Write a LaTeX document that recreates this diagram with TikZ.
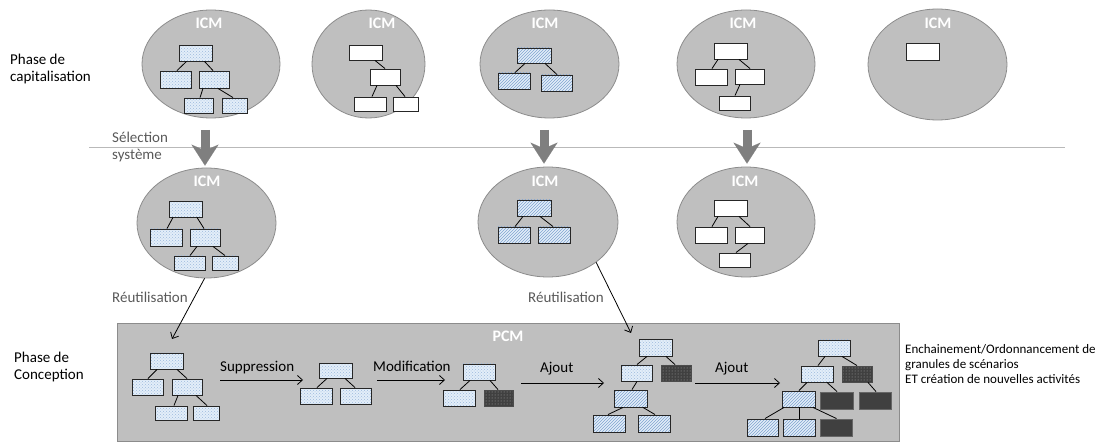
\documentclass[tikz,border=0pt]{standalone}
\usepackage{fontspec}
\setmainfont{Carlito}
\usetikzlibrary{arrows.meta,shapes.geometric,patterns}
\definecolor{ellfill}{HTML}{BFBFBF}
\definecolor{elldraw}{HTML}{8C8C8C}
\definecolor{lblue}{HTML}{E3EEF9}
\definecolor{pblue}{HTML}{9DB9DC}
\definecolor{hblue}{HTML}{7FA3CF}
\definecolor{dark}{HTML}{404040}
\definecolor{txtgray}{HTML}{595959}
\definecolor{arrgray}{HTML}{7F7F7F}
\newcommand\B[6]{\node[#6, minimum width={#4-#2}, minimum height={#5-#3}] (#1) at ({(#2+#4)/2},{(#3+#5)/2}) {};}
\newcommand\Lk[4]{\draw[lk] ([xshift=#2pt]#1.south) -- ([xshift=#4pt]#3.north);}
\tikzset{
  ell/.style={ellipse, draw=elldraw, fill=ellfill, line width=0.8pt, inner sep=0pt},
  boxbase/.style={rectangle, inner sep=0pt, line width=0.9pt},
  lb/.style={boxbase, draw=black!85, preaction={fill=lblue}, pattern=crosshatch dots, pattern color=pblue},
  lh/.style={boxbase, draw=black!85, preaction={fill=lblue}, pattern=north east lines, pattern color=hblue},
  wb/.style={boxbase, draw=black!85, fill=white},
  dd/.style={boxbase, draw=black!70, preaction={fill=dark}, pattern=dots, pattern color=gray!70},
  dk/.style={boxbase, draw=black!60, fill=dark},
  lk/.style={draw=black, line width=0.8pt},
  icm/.style={text=white, font=\fontsize{16}{19}\selectfont\bfseries, inner sep=0pt, anchor=base},
  lab/.style={font=\fontsize{15}{17.5}\selectfont, inner sep=0pt, anchor=base west, align=left},
  glab/.style={lab, text=txtgray},
  big/.style={draw=arrgray, line width=9pt, -{Stealth[length=21pt,width=27pt,inset=6pt,line width=0.1pt]}},
  ar/.style={draw=black, line width=0.8pt, -{Straight Barb[length=5pt,width=9pt]}},
}
\begin{document}
\begin{tikzpicture}[x=1pt,y=-1pt]
\useasboundingbox (0,0) rectangle (1108,443);
% top row ellipses
\node[ell, minimum width=138, minimum height=108] (t1) at (211,64) {};
\node[ell, minimum width=113, minimum height=108] (t2) at (368.5,64) {};
\node[ell, minimum width=139, minimum height=108] (t3) at (549.5,64) {};
\node[ell, minimum width=138, minimum height=108] (t4) at (746,64) {};
\node[ell, minimum width=139, minimum height=111] (t5) at (937.5,64.5) {};
\node[icm] (i1) at (209,29) {ICM};
\node[icm] (i2) at (382,29) {ICM};
\node[icm] (i3) at (545,29) {ICM};
\node[icm] (i4) at (743,29) {ICM};
\node[icm] (i5) at (938,29) {ICM};
% tree t1
\B{a1r}{179}{45}{212}{61}{lb}
\B{a1l}{160}{71}{191}{88}{lb}
\B{a1m}{199}{71}{229}{88}{lb}
\B{a1g}{184}{98}{213}{113}{lb}
\B{a1h}{222}{98}{247}{113}{lb}
\Lk{a1r}{-9}{a1l}{1.5}
\Lk{a1r}{9}{a1m}{-1}
\Lk{a1m}{-11}{a1g}{1.5}
\Lk{a1m}{4}{a1h}{-1.5}
% tree t2
\B{a2r}{349}{45}{382}{60}{wb}
\B{a2m}{370}{69}{400}{85}{wb}
\B{a2g}{354}{97}{386}{111}{wb}
\B{a2h}{393}{97}{418}{111}{wb}
\Lk{a2r}{9.5}{a2m}{0}
\Lk{a2m}{-8}{a2g}{2}
\Lk{a2m}{11}{a2h}{-0.5}
% tree t3
\B{a3r}{517}{48}{551}{63}{lh}
\B{a3l}{498}{73}{530}{89}{lh}
\B{a3m}{541}{75}{572}{91}{lh}
\Lk{a3r}{-9}{a3l}{1}
\Lk{a3r}{11}{a3m}{0.5}
% tree t4
\B{a4r}{714}{43}{747}{59}{wb}
\B{a4l}{695}{69}{727}{85}{wb}
\B{a4m}{735}{69}{764}{84}{wb}
\B{a4g}{719}{96}{750}{110}{wb}
\Lk{a4r}{-12.5}{a4l}{1}
\Lk{a4r}{8.5}{a4m}{0.5}
\Lk{a4m}{-9.5}{a4g}{0.5}
% tree t5
\B{a5r}{906}{43}{939}{60}{wb}
% separator
\draw[draw=gray!55, line width=0.6pt] (89,147) -- (1065,147);
% second row ellipses
\node[ell, minimum width=139, minimum height=110] (b1) at (206.5,223) {};
\node[ell, minimum width=140, minimum height=110] (b2) at (548,222) {};
\node[ell, minimum width=138, minimum height=110] (b3) at (746,222) {};
\node[icm] (j1) at (207,187) {ICM};
\node[icm] (j2) at (545,187) {ICM};
\node[icm] (j3) at (745,187) {ICM};
% big arrows
\coordinate (s1) at (205,130);
\coordinate (s2) at (544,130);
\coordinate (s3) at (747,130);
\draw[big, shorten >=2pt] (s1) -- (s1 |- b1.north);
\draw[big, shorten >=3pt] (s2) -- (s2 |- b2.north);
\draw[big, shorten >=3pt] (s3) -- (s3 |- b3.north);
% tree b1
\B{c1r}{169}{201}{202}{217}{lb}
\B{c1l}{150}{229}{182}{246}{lb}
\B{c1m}{190}{229}{220}{246}{lb}
\B{c1g}{174}{256}{205}{270}{lb}
\B{c1h}{212}{256}{238}{270}{lb}
\Lk{c1r}{-12.5}{c1l}{1}
\Lk{c1r}{11.5}{c1m}{-1}
\Lk{c1m}{-8}{c1g}{0.5}
\Lk{c1m}{8}{c1h}{0}
% tree b2
\B{c2r}{517}{200}{551}{216}{lh}
\B{c2l}{498}{227}{530}{243}{lh}
\B{c2m}{538}{227}{570}{243}{lh}
\Lk{c2r}{-11}{c2l}{1}
\Lk{c2r}{6}{c2m}{-1}
% tree b3
\B{c3r}{714}{200}{747}{216}{wb}
\B{c3l}{695}{227}{727}{243}{wb}
\B{c3m}{735}{227}{764}{243}{wb}
\B{c3g}{719}{253}{750}{267}{wb}
\Lk{c3r}{-12.5}{c3l}{1}
\Lk{c3r}{8.5}{c3m}{0.5}
\Lk{c3m}{-1.5}{c3g}{1.5}
% left labels (base = last line)
\node[lab] (ph1) at (10,82) {Phase de\\capitalisation};
\node[glab] (sel) at (112,160) {Sélection\\système};
\node[lab] (ph2) at (14,380) {Phase de\\Conception};
% PCM panel
\node[rectangle, draw=elldraw, fill=ellfill, line width=0.8pt, inner sep=0pt, minimum width=782, minimum height=118] (pcm) at (508,382) {};
\node[icm] (pcml) at (508,342) {PCM};
% reuse arrows
\node[glab] (re1) at (112,303) {Réutilisation};
\node[glab] (re2) at (528,303) {Réutilisation};
\coordinate (r1) at (172,339);
\coordinate (r2) at (631,333);
\draw[ar] (b1.-92) -- (r1);
\draw[ar] (b2.-40) -- (r2);
% tree p1
\B{p1r}{150}{353}{183}{369}{lb}
\B{p1l}{132}{379}{163}{395}{lb}
\B{p1m}{172}{379}{202}{395}{lb}
\B{p1g}{155}{406}{187}{420}{lb}
\B{p1h}{193}{406}{219}{420}{lb}
\Lk{p1r}{-9.5}{p1l}{0.5}
\Lk{p1r}{10.5}{p1m}{0}
\Lk{p1m}{-9}{p1g}{3}
\Lk{p1m}{9}{p1h}{1}
% tree p2
\B{p2r}{319}{363}{352}{378}{lb}
\B{p2l}{300}{388}{332}{404}{lb}
\B{p2m}{340}{388}{371}{404}{lb}
\Lk{p2r}{-8.5}{p2l}{1}
\Lk{p2r}{9.5}{p2m}{-0.5}
% tree p3
\B{p3r}{463}{364}{495}{380}{lb}
\B{p3l}{443}{390}{475}{406}{lb}
\B{p3d}{484}{390}{513}{406}{dd}
\Lk{p3r}{-9}{p3l}{1}
\Lk{p3r}{11}{p3d}{-0.5}
% tree p4
\B{p4r}{639}{339}{672}{356}{lb}
\B{p4l}{621}{365}{652}{381}{lb}
\B{p4d}{661}{365}{691}{381}{dd}
\B{p4m}{614}{390}{647}{407}{lh}
\B{p4g}{593}{415}{625}{432}{lh}
\B{p4h}{638}{415}{670}{432}{lh}
\Lk{p4r}{-8.5}{p4l}{0.5}
\Lk{p4r}{10.5}{p4d}{-1}
\Lk{p4l}{0.5}{p4m}{1.5}
\Lk{p4m}{-7.5}{p4g}{-1}
\Lk{p4m}{12.5}{p4h}{1}
% tree p5
\B{p5r}{818}{340}{850}{356}{lb}
\B{p5l}{801}{366}{833}{382}{lb}
\B{p5d}{842}{366}{872}{382}{dd}
\B{p5m}{782}{391}{815}{407}{lh}
\B{p5k}{820}{392}{853}{409}{dk}
\B{p5j}{859}{392}{891}{409}{dk}
\B{p5g}{747}{419}{778}{436}{lh}
\B{p5h}{783}{419}{815}{436}{lh}
\B{p5i}{820}{419}{852}{436}{dk}
\Lk{p5r}{-9}{p5l}{1}
\Lk{p5r}{8}{p5d}{0}
\Lk{p5l}{-10}{p5m}{0.5}
\Lk{p5l}{10}{p5k}{0.5}
\Lk{p5d}{11}{p5j}{1}
\Lk{p5m}{-14.5}{p5g}{2.5}
\Lk{p5m}{0.5}{p5h}{0}
\Lk{p5m}{14.5}{p5i}{0.5}
% step arrows
\coordinate (q1) at (220,380);
\coordinate (q2) at (303,380);
\coordinate (q3) at (377,380);
\coordinate (q4) at (445,380);
\coordinate (q5) at (521,383);
\coordinate (q6) at (604,383);
\coordinate (q7) at (695,383);
\coordinate (q8) at (780,383);
\draw[ar] (q1) -- (q2);
\draw[ar] (q3) -- (q4);
\draw[ar] (q5) -- (q6);
\draw[ar] (q7) -- (q8);
\node[lab] (l1) at (220,371) {Suppression};
\node[lab] (l2) at (373,371) {Modification};
\node[lab] (l3) at (540,373) {Ajout};
\node[lab] (l4) at (715,373) {Ajout};
\node[lab, font=\fontsize{13}{15}\selectfont] (rt) at (905,384) {Enchainement/Ordonnancement de\\granules de scénarios\\ET création de nouvelles activités};
\end{tikzpicture}
\end{document}
